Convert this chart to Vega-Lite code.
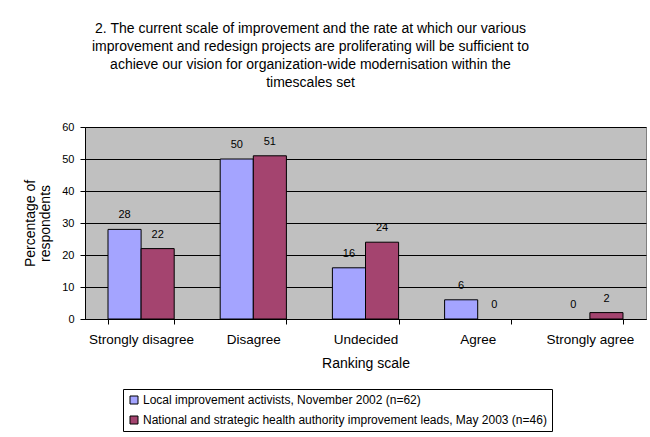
{
  "$schema": "https://vega.github.io/schema/vega-lite/v6.json",
  "autosize": "none",
  "width": 561,
  "height": 192,
  "padding": {"left": 85, "top": 127, "right": 4, "bottom": 118},
  "background": "white",
  "title": {
    "text": [
      "2. The current scale of improvement and the rate at which our various",
      "improvement and redesign projects are proliferating will be sufficient to",
      "achieve our vision for organization-wide modernisation within the",
      "timescales set"
    ],
    "anchor": "middle",
    "dx": -55,
    "offset": 31,
    "font": "Liberation Sans",
    "fontSize": 14,
    "fontWeight": "normal",
    "lineHeight": 18,
    "color": "black"
  },
  "data": {
    "values": [
      {"scale": "Strongly disagree", "group": "Local improvement activists, November 2002 (n=62)", "value": 28},
      {"scale": "Strongly disagree", "group": "National and strategic health authority improvement leads, May 2003 (n=46)", "value": 22},
      {"scale": "Disagree", "group": "Local improvement activists, November 2002 (n=62)", "value": 50},
      {"scale": "Disagree", "group": "National and strategic health authority improvement leads, May 2003 (n=46)", "value": 51},
      {"scale": "Undecided", "group": "Local improvement activists, November 2002 (n=62)", "value": 16},
      {"scale": "Undecided", "group": "National and strategic health authority improvement leads, May 2003 (n=46)", "value": 24},
      {"scale": "Agree", "group": "Local improvement activists, November 2002 (n=62)", "value": 6},
      {"scale": "Agree", "group": "National and strategic health authority improvement leads, May 2003 (n=46)", "value": 0},
      {"scale": "Strongly agree", "group": "Local improvement activists, November 2002 (n=62)", "value": 0},
      {"scale": "Strongly agree", "group": "National and strategic health authority improvement leads, May 2003 (n=46)", "value": 2}
    ]
  },
  "encoding": {
    "x": {
      "field": "scale",
      "type": "nominal",
      "sort": ["Strongly disagree", "Disagree", "Undecided", "Agree", "Strongly agree"],
      "scale": {"paddingInner": 0.41, "paddingOuter": 0.205},
      "axis": {
        "title": "Ranking scale",
        "labelAngle": 0,
        "tickBand": "extent",
        "domainColor": "black",
        "tickColor": "black",
        "tickSize": 5,
        "labelPadding": 8,
        "titlePadding": 11,
        "labelFont": "Liberation Sans",
        "labelFontSize": 13.5,
        "labelColor": "black",
        "labelLimit": 200,
        "titleFont": "Liberation Sans",
        "titleFontSize": 14,
        "titleFontWeight": "normal",
        "titleColor": "black"
      }
    },
    "xOffset": {
      "field": "group",
      "type": "nominal",
      "scale": {"paddingInner": 0, "paddingOuter": 0}
    },
    "y": {
      "field": "value",
      "type": "quantitative",
      "scale": {"domain": [0, 60]},
      "axis": {
        "title": ["Percentage of", "respondents"],
        "titleLineHeight": 15,
        "values": [0, 10, 20, 30, 40, 50, 60],
        "grid": true,
        "gridColor": "black",
        "gridWidth": 1,
        "domainColor": "black",
        "tickColor": "black",
        "tickSize": 5,
        "labelPadding": 6,
        "titlePadding": 9,
        "labelFont": "Liberation Sans",
        "labelFontSize": 11,
        "labelColor": "black",
        "titleFont": "Liberation Sans",
        "titleFontSize": 14,
        "titleFontWeight": "normal",
        "titleColor": "black"
      }
    }
  },
  "layer": [
    {
      "transform": [{"filter": "datum.value > 0"}],
      "mark": {"type": "bar", "stroke": "black", "strokeWidth": 1},
      "encoding": {
        "color": {
          "field": "group",
          "type": "nominal",
          "scale": {"range": ["#A4A4FF", "#A4446F"]},
          "legend": {
            "title": null,
            "orient": "none",
            "legendX": 38,
            "legendY": 262,
            "direction": "vertical",
            "symbolType": "square",
            "symbolSize": 64,
            "symbolStrokeColor": "black",
            "symbolStrokeWidth": 1,
            "labelFont": "Liberation Sans",
            "labelFontSize": 12,
            "labelColor": "black",
            "labelLimit": 600,
            "labelOffset": 3,
            "rowPadding": 8,
            "padding": 5,
            "strokeColor": "black",
            "fillColor": "white"
          }
        }
      }
    },
    {
      "mark": {"type": "text", "baseline": "middle", "dy": -14, "font": "Liberation Sans", "fontSize": 11, "color": "black"},
      "encoding": {
        "text": {"field": "value", "type": "quantitative"}
      }
    }
  ],
  "config": {
    "view": {"fill": "#C0C0C0", "stroke": "#808080"}
  }
}
